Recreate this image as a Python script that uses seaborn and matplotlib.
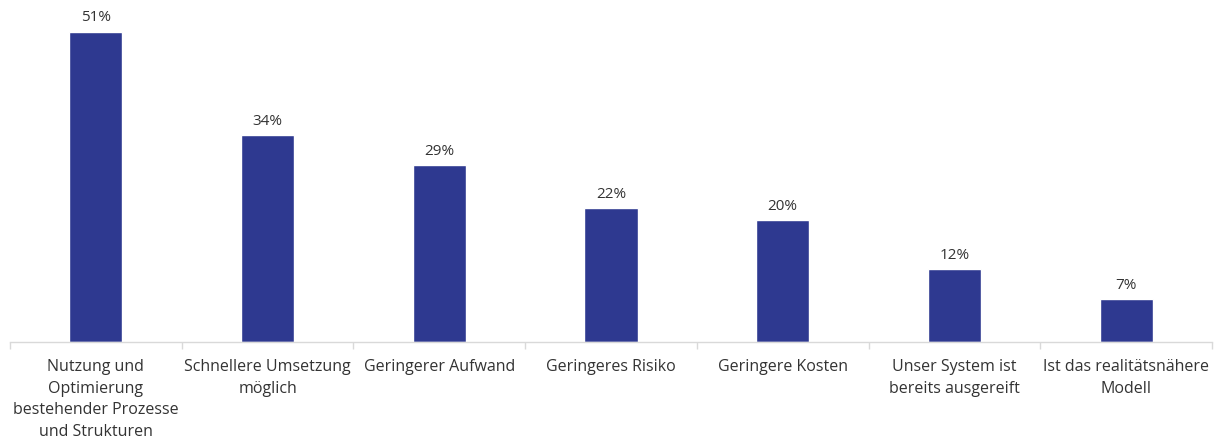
import matplotlib
matplotlib.use("Agg")
import matplotlib.pyplot as plt
import seaborn as sns
import pandas as pd

categories = [
    "Nutzung und\nOptimierung\nbestehender Prozesse\nund Strukturen",
    "Schnellere Umsetzung\nmöglich",
    "Geringerer Aufwand",
    "Geringeres Risiko",
    "Geringere Kosten",
    "Unser System ist\nbereits ausgereift",
    "Ist das realitätsnähere\nModell",
]
values = [51, 34, 29, 22, 20, 12, 7]

sns.set_theme(style="white")
plt.rcParams["font.family"] = ["Open Sans", "DejaVu Sans"]

df = pd.DataFrame({"cat": categories, "val": values})

fig = plt.figure(figsize=(12.18, 4.41), dpi=100)
ax = fig.add_axes([10 / 1218, 99 / 441, 1202 / 1218, 333 / 441])

sns.barplot(data=df, x="cat", y="val", color="#2E3990", width=0.31,
            saturation=1, ax=ax)

ax.set_ylim(0, 54.7)
ax.set_xlim(-0.5, len(categories) - 0.5)

for i, v in enumerate(values):
    ax.annotate(f"{v}%", (i, v), xytext=(0, 4.5), textcoords="offset points",
                ha="center", va="bottom", fontsize=11, color="#333333")

for side in ["top", "right", "left"]:
    ax.spines[side].set_visible(False)
ax.spines["bottom"].set_color("#D9D9D9")
ax.spines["bottom"].set_linewidth(1.0)

ax.set_yticks([])
ax.set_xlabel("")
ax.set_ylabel("")
ax.set_xticks(range(len(categories)))
ax.set_xticklabels(categories, fontsize=11.5, color="#333333", linespacing=1.45)
ax.tick_params(axis="x", which="major", length=0, pad=12.5)
ax.set_xticks([i - 0.5 for i in range(len(categories) + 1)], minor=True)
ax.tick_params(axis="x", which="minor", length=5, color="#D9D9D9", width=1,
               bottom=True)

fig.savefig("out.png", dpi=100, facecolor="white")
